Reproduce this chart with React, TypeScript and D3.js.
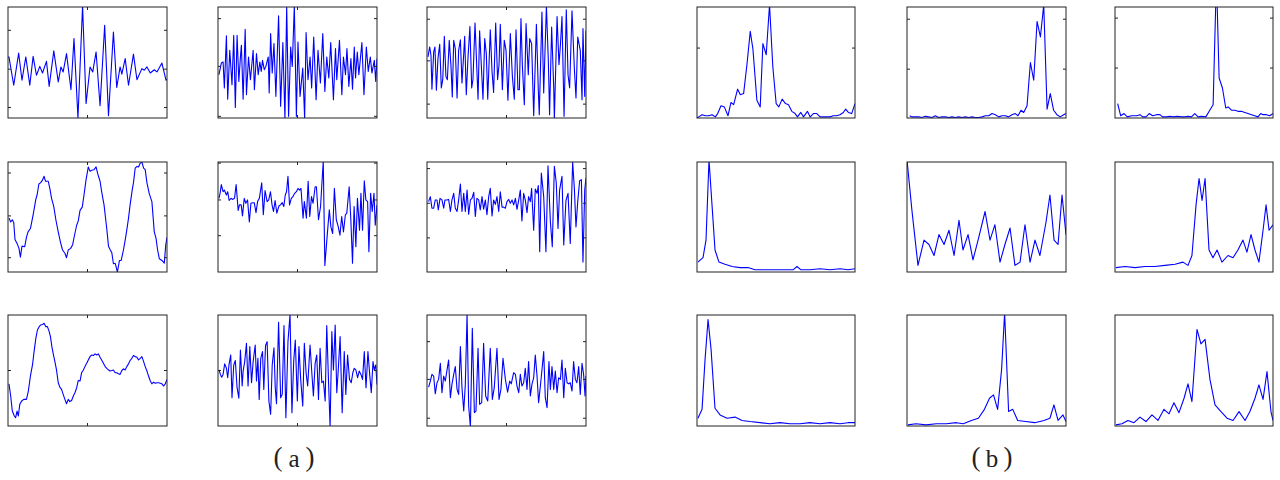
import React from 'react';
import * as d3 from 'd3';

type Pt = [number, number];

// ---- left group (a): time signals, t in [0,100], amplitude in [-1,1]
const sigA1: Pt[] = [[0,0.1],[0.6,0.10],[3.6,-0.41],[6.7,0.17],[8.8,-0.32],[11.2,0.10],[13.7,-0.41],[15.8,0.11],[17.9,-0.23],[20,-0.07],[21.7,-0.19],[24.2,0.02],[25.9,-0.43],[28.8,0.21],[31.6,-0.35],[33.3,-0.08],[34.7,-0.17],[36.8,0.16],[39.6,-0.49],[41.5,0.43],[44,-1.0],[46.9,1.02],[49.1,-0.74],[51.6,-0.08],[53.3,-0.17],[55.4,0.19],[57.9,-0.78],[60.8,0.67],[63.2,-0.96],[66.3,0.55],[68.4,-0.45],[70.5,-0.08],[71.6,-0.21],[73.7,0.07],[75.8,-0.41],[78.9,0.15],[81.1,-0.31],[84.2,-0.11],[85.7,-0.14],[87.4,-0.08],[89.5,-0.19],[92,-0.13],[93.7,-0.17],[96.8,-0.01],[99.4,-0.32],[100,-0.3]];
const sigA2: Pt[] = [[0.6,-0.22],[2.1,-0.01],[3.2,0.01],[4,-0.46],[5.3,0.48],[6.1,-0.66],[7.4,0.22],[8.8,-0.40],[9.9,0.49],[10.9,-0.81],[12,0.49],[13.1,-0.34],[14.1,0.10],[14.7,0.31],[15.8,-0.66],[17.1,0.60],[17.9,-0.58],[19.2,0.10],[20.4,-0.31],[22.1,0.22],[22.9,-0.49],[24.2,0.16],[25.3,-0.22],[26.3,0.01],[27.2,-0.16],[28,0.04],[29.1,-0.13],[30.1,-0.07],[31.6,0.10],[32.2,-0.55],[33.1,0.52],[34.1,-0.19],[35.2,0.34],[36.4,-0.61],[38.1,0.84],[39.4,-0.79],[40.8,0.36],[42.1,-1.02],[43.2,1.02],[44.4,-0.97],[45.7,0.28],[46.7,-0.07],[48,1.02],[49.3,-0.97],[50.3,0.37],[51.6,-0.61],[53.3,-0.10],[54.5,-1.02],[55.4,0.54],[56.6,-0.31],[57.9,0.10],[58.9,-0.46],[60.2,0.46],[61.7,-0.67],[62.9,0.22],[64.4,-0.37],[65.9,0.52],[67.2,-0.52],[68.4,0.10],[69.7,-0.28],[70.9,0.36],[72.6,-0.67],[73.9,0.25],[74.7,-0.31],[76.4,0.40],[77.9,-0.58],[78.9,0.10],[80.2,-0.22],[81.1,0.25],[82.3,-0.43],[83.6,0.07],[84.6,-0.48],[85.7,0.28],[86.5,-0.28],[87.6,0.19],[88.6,-0.22],[90.5,0.36],[91.8,-0.58],[93.3,0.28],[94.5,-0.16],[95.8,0.10],[96.8,-0.19],[98.3,0.04],[99.2,-0.34],[100,0.07]];
const sigA3: Pt[] = [[0.6,0.10],[1.7,0.28],[2.5,0.13],[3.1,-0.48],[4.2,0.19],[5,0.28],[5.9,-0.50],[6.9,0.07],[8,0.33],[9,-0.46],[9.9,-0.31],[10.9,0.47],[11.9,-0.25],[12.8,-0.31],[14,0.40],[15.1,-0.07],[15.9,-0.62],[16.8,0.40],[17.8,0.25],[18.9,-0.64],[19.9,0.22],[21,0.41],[22,-0.37],[23.1,0.16],[23.7,0.47],[24.7,-0.58],[25.8,0.10],[27,0.65],[28.1,-0.46],[28.9,-0.31],[30.2,0.71],[30.8,0.28],[32.1,-0.66],[33.1,0.57],[34.2,-0.07],[35.2,-0.66],[36.3,0.43],[37.3,0.16],[38.2,-0.66],[39.8,0.59],[40.9,-0.16],[41.9,-0.54],[43.2,0.71],[44.4,-0.31],[45.3,-0.04],[46.1,0.69],[47.4,-0.49],[48.6,0.40],[49.7,0.22],[50.9,-0.68],[52.4,0.52],[53.7,-0.25],[54.9,-0.66],[56,0.59],[57.2,-0.49],[58.1,-0.49],[59.1,0.79],[60,-0.07],[61.2,-0.76],[62.3,0.70],[63.7,-0.22],[64.6,0.43],[65.8,0.34],[67.1,-0.96],[68.8,0.69],[70,-0.49],[70.6,-0.94],[72.3,0.91],[73.4,-0.55],[75.1,1.02],[76.3,0.04],[77.1,-0.94],[78.4,0.64],[79.7,-0.46],[80.1,-1.02],[81.8,0.83],[83,-0.04],[83.9,0.31],[84.9,0.83],[86.2,-0.97],[87.6,0.95],[88.7,-0.22],[89.7,-0.46],[91.2,0.93],[92.7,-0.12],[93.7,-0.64],[94.8,0.46],[96.4,0.22],[97.5,-0.67],[98.1,0.61],[99.2,-0.61],[100,0.57]];
const sigA4: Pt[] = [[0.6,-0.02],[1.7,-0.09],[2.7,-0.05],[3.6,-0.10],[4.4,-0.41],[5.7,-0.48],[6.9,-0.57],[7.8,-0.73],[8.8,-0.53],[10.5,-0.54],[11.6,-0.37],[12.6,-0.27],[14.1,-0.21],[15.8,0.04],[17.5,0.32],[18.3,0.40],[19.4,0.60],[20.4,0.62],[21.5,0.66],[22.7,0.74],[23.6,0.65],[25.3,0.65],[26.3,0.52],[27.4,0.34],[28.8,0.19],[30.1,-0.05],[31.6,-0.27],[33.1,-0.47],[34.3,-0.60],[35.8,-0.66],[36.8,-0.74],[37.9,-0.60],[39.4,-0.57],[40.6,-0.51],[41.7,-0.35],[43.2,-0.15],[44.2,-0.07],[45.3,0.12],[46.7,0.18],[47.8,0.40],[49.1,0.68],[50.5,0.91],[51.6,0.83],[52.6,0.85],[54.1,0.86],[55.4,0.91],[56.4,0.79],[57.9,0.65],[58.9,0.46],[60.4,0.22],[62.1,-0.21],[63.2,-0.53],[64.2,-0.59],[65.3,-0.65],[66.3,-0.85],[67.4,-0.84],[68.8,-1.0],[70.1,-0.79],[71.2,-0.79],[72.6,-0.60],[73.7,-0.42],[74.7,-0.24],[75.8,-0.02],[76.8,0.22],[78.1,0.49],[78.9,0.62],[80,0.89],[81.1,0.92],[82.1,0.91],[83.2,0.98],[84.2,1.0],[85.3,0.89],[86.3,0.86],[87.4,0.62],[88.8,0.43],[90.5,0.28],[92,-0.27],[93.1,-0.39],[94.1,-0.60],[95.2,-0.76],[96.8,-0.79],[98.3,-0.84],[99.2,-0.51],[100,-0.37]];
const sigA5: Pt[] = [[0.6,0.34],[1.3,0.43],[2.1,0.59],[3.2,0.46],[4,0.49],[5.3,0.40],[6.1,0.46],[7,0.30],[8.2,0.34],[9.1,0.32],[10.4,0.34],[11.4,0.59],[12.7,0.12],[13.5,0.22],[14.6,0.22],[15.4,0.02],[16.5,0.34],[17.5,0.25],[18.6,0.31],[19.7,-0.09],[20.7,0.25],[21.8,0.26],[22.8,0.26],[23.9,0.08],[24.9,0.28],[26,0.34],[27.5,0.62],[28.5,0.04],[29.6,0.48],[30.9,0.28],[31.9,0.31],[33,0.46],[34,0.22],[34.9,0.10],[35.9,0.30],[37,0.07],[38.3,0.20],[39.3,0.22],[40.4,0.26],[41.4,0.19],[42.3,0.40],[43.1,0.46],[44,0.74],[45,0.22],[46.1,0.34],[47.1,0.37],[48.2,0.43],[49.3,0.46],[50.3,0.52],[51.4,0.49],[52.2,0.52],[53.5,-0.02],[54.3,0.28],[55.6,-0.02],[56.7,0.65],[57.7,0.01],[58.8,0.37],[59.8,0.25],[61.1,0.55],[61.9,0.55],[63.2,-0.05],[64.5,0.19],[66.2,1.02],[67.2,-0.88],[68.7,-0.33],[70,0.13],[71,-0.18],[72.1,-0.30],[73.2,0.52],[74.4,-0.05],[75.5,-0.16],[76.7,-0.33],[77.8,0.01],[78.9,-0.27],[80.1,0.04],[81,0.07],[82.5,0.55],[83.5,-0.02],[84.6,-0.84],[85.6,0.19],[86.7,-0.54],[87.7,0.34],[89,-0.24],[89.9,0.43],[90.9,-0.24],[92,0.66],[93,0.31],[94.1,0.28],[94.9,-0.63],[96,0.43],[97,0.10],[98.1,0.43],[98.9,-0.15],[100,0.22]];
const sigA6: Pt[] = [[1,0.28],[2.1,0.37],[3.1,0.16],[4.2,0.16],[5.2,0.31],[6.3,0.31],[7.1,0.13],[8.2,0.34],[9.4,0.31],[10.5,0.16],[11.3,0.31],[12.6,0.31],[13.6,0.32],[14.7,0.10],[15.7,0.31],[16.8,0.43],[17.8,0.16],[18.9,0.10],[19.9,0.31],[21,0.60],[22,0.10],[23.1,0.43],[24.1,0.10],[25.2,0.49],[26.2,0.05],[27.3,0.31],[28.3,0.34],[29.4,0.45],[30.4,0.01],[31.4,0.34],[32.5,0.31],[33.5,0.13],[34.6,0.37],[35.6,0.14],[36.7,0.31],[37.7,0.04],[38.8,0.37],[39.8,0.52],[40.9,0.02],[41.9,0.31],[43,0.23],[44,0.37],[45.1,0.10],[46.1,0.46],[47.2,0.18],[48.2,0.18],[49.3,0.16],[50.3,0.28],[51.4,0.32],[52.4,0.25],[53.5,0.31],[54.5,0.22],[55.6,0.34],[56.6,0.14],[57.7,0.31],[58.7,0.49],[59.7,-0.07],[60.8,0.43],[61.8,0.31],[62.9,0.08],[63.9,0.37],[65,0.28],[65.8,0.52],[67.1,-0.24],[68.1,0.51],[69.2,0.43],[70,0.57],[70.9,-0.63],[71.9,0.80],[73.4,0.37],[74.8,-0.63],[76.1,0.93],[77.6,-0.09],[78.8,-0.54],[80.1,0.92],[81.3,0.62],[82.4,-0.21],[83.4,0.49],[84.9,0.74],[86,-0.51],[87.4,0.30],[88.7,0.43],[90.1,-0.48],[91.6,1.0],[92.7,0.51],[93.7,-0.18],[94.8,0.28],[96,0.66],[97.1,0.68],[98.1,-0.82],[99.2,0.49],[100,0.71]];
const sigA7: Pt[] = [[0.6,-0.24],[1.7,-0.46],[2.7,-0.73],[4,-0.82],[4.8,-0.85],[5.7,-0.73],[6.5,-0.82],[7.4,-0.61],[8.6,-0.55],[9.9,-0.52],[11.6,-0.52],[12.8,-0.37],[14.1,-0.10],[15.4,0.10],[16.4,0.34],[17.5,0.58],[18.5,0.73],[19.6,0.79],[20.6,0.82],[21.7,0.83],[22.7,0.85],[23.8,0.79],[24.8,0.79],[25.9,0.70],[26.7,0.61],[27.6,0.43],[28.4,0.31],[29.5,0.16],[30.5,0.01],[31.6,-0.22],[32.6,-0.30],[33.7,-0.34],[34.7,-0.43],[35.8,-0.52],[36.8,-0.60],[37.9,-0.52],[38.9,-0.56],[40,-0.54],[41.1,-0.46],[42.1,-0.40],[43.2,-0.31],[44.2,-0.18],[45.3,-0.19],[46.3,-0.04],[47.4,0.01],[48.4,0.07],[49.5,0.13],[50.5,0.19],[51.6,0.25],[52.6,0.28],[53.7,0.27],[54.7,0.30],[55.8,0.28],[56.8,0.30],[57.9,0.24],[58.9,0.19],[60,0.13],[61.1,0.07],[62.1,0.04],[63.2,0.01],[64.2,-0.01],[65.3,0.0],[66.3,0.01],[67.4,-0.04],[68.4,-0.04],[69.5,-0.06],[70.5,-0.07],[71.6,0.0],[72.6,0.03],[73.7,0.01],[74.7,0.07],[75.8,0.12],[76.8,0.18],[77.9,0.22],[78.9,0.27],[80,0.25],[81.1,0.24],[82.1,0.19],[83.2,0.22],[84.2,0.25],[85.3,0.16],[86.3,0.07],[87.4,-0.01],[88.4,-0.10],[89.5,-0.19],[90.5,-0.24],[91.6,-0.21],[92.6,-0.23],[93.7,-0.22],[94.7,-0.22],[95.8,-0.23],[96.8,-0.24],[97.9,-0.28],[98.9,-0.24],[100,-0.16]];
const sigA8: Pt[] = [[0.6,0.01],[1.5,-0.07],[2.3,-0.12],[3.2,-0.07],[4.2,0.12],[5.3,0.04],[6.1,-0.13],[6.9,0.10],[8,0.28],[8.8,-0.49],[9.9,0.10],[10.9,0.18],[12,-0.31],[13.1,-0.50],[14.1,0.37],[15.2,-0.28],[15.8,-0.01],[16.8,0.16],[17.9,0.49],[18.9,-0.28],[20,0.43],[21.1,-0.22],[22.1,0.16],[23.4,0.46],[24.2,-0.19],[25.1,0.22],[25.9,-0.52],[26.9,0.22],[28,0.34],[28.8,-0.34],[29.9,0.45],[30.9,0.52],[32,-0.55],[33.1,-0.79],[34.1,0.10],[35.2,0.41],[36,-0.31],[36.8,-0.60],[38.1,0.87],[39.4,-0.49],[40.4,-0.43],[41.5,0.81],[42.7,-0.85],[44,0.52],[45.3,1.01],[46.5,-0.76],[47.6,0.16],[48.6,0.55],[49.9,-0.55],[50.9,0.43],[52,-0.16],[53.3,-0.64],[54.3,0.49],[55.4,-0.04],[56.4,-0.28],[57.9,0.46],[58.9,0.01],[60,-0.46],[61.1,0.13],[62.1,0.28],[63.2,-0.52],[64.2,0.40],[65.3,-0.22],[66.3,-0.19],[67.4,-0.55],[68.4,0.81],[69.5,-0.19],[70.5,-1.02],[71.6,0.70],[72.6,0.01],[73.7,0.82],[74.7,-0.40],[75.6,-0.01],[76.8,0.61],[78.1,-0.76],[79.4,0.34],[80.4,-0.43],[81.5,0.28],[82.7,-0.16],[83.8,-0.22],[84.8,-0.04],[85.7,0.04],[86.7,0.01],[87.8,-0.13],[88.8,-0.01],[89.9,-0.07],[90.9,-0.16],[92,0.34],[93.1,-0.31],[94.3,0.34],[95.4,-0.07],[96.4,-0.40],[97.5,0.16],[98.3,0.01],[99.2,0.10],[100,-0.25]];
const sigA9: Pt[] = [[1,-0.30],[2.1,-0.19],[3.1,-0.07],[4.2,-0.10],[5.2,-0.42],[6.3,-0.22],[7.3,-0.16],[8.4,0.13],[9.4,-0.40],[10.5,-0.10],[11.5,-0.19],[12.6,0.01],[13.6,0.19],[14.7,-0.49],[15.7,-0.25],[16.8,-0.07],[17.8,0.07],[18.9,-0.34],[19.9,-0.43],[21,0.43],[22,-0.31],[23.1,-0.73],[24.1,-0.25],[25.2,1.01],[26.2,-0.64],[27.3,-1.02],[28.5,0.76],[29.8,-0.76],[30.8,-0.73],[32.1,0.40],[33.1,-0.61],[34.4,-0.58],[35.6,0.49],[36.9,-0.46],[38.2,-0.55],[39.8,0.40],[41.1,-0.52],[42.3,-0.31],[44,0.40],[45.3,-0.52],[46.5,-0.34],[47.8,0.22],[49.3,-0.16],[50.7,-0.39],[52,-0.19],[53,-0.24],[54.5,-0.04],[55.6,-0.07],[56.6,-0.28],[57.7,-0.40],[58.7,-0.07],[59.7,-0.28],[60.8,-0.22],[61.8,0.04],[62.9,-0.34],[63.9,0.16],[65,-0.46],[66,-0.25],[67.1,-0.13],[68.1,0.28],[69.2,-0.10],[70.2,-0.58],[71.3,-0.28],[72.3,0.01],[73.4,0.34],[74.4,-0.49],[75.5,-0.67],[76.7,0.16],[77.6,-0.34],[78.6,0.07],[79.7,-0.34],[80.7,-0.01],[81.8,-0.40],[82.8,-0.13],[83.9,-0.16],[84.9,0.19],[86,-0.49],[87,0.04],[88.1,-0.22],[89.1,-0.24],[90.1,-0.22],[91.2,-0.37],[92.2,0.16],[93.3,-0.16],[94.3,-0.22],[95.4,0.07],[96.4,-0.43],[97.5,0.13],[98.5,-0.07],[99.4,-0.46],[100,-0.10]];

// ---- right group (b): spectra, f in [0,100], magnitude in [0,1]
const specB1: Pt[] = [[0,0.0],[1.1,0.01],[3.2,0.03],[5.3,0.02],[7.4,0.02],[9.5,0.03],[11.6,0.01],[13.1,0.04],[15.2,0.11],[17.3,0.10],[19.6,0.02],[21.5,0.14],[23.2,0.12],[25.7,0.26],[27.4,0.21],[29.5,0.22],[31.6,0.48],[33.7,0.78],[35.4,0.62],[37.9,0.16],[40,0.10],[41.7,0.67],[43.8,0.57],[45.9,1.02],[48,0.46],[50.1,0.13],[51.8,0.10],[53.9,0.17],[56,0.13],[57.9,0.12],[60,0.06],[62.1,0.04],[63.6,0.01],[65.7,0.05],[67.4,0.01],[69.9,0.06],[71.6,0.01],[73.7,0.04],[75.8,0.04],[77.9,0.01],[80,0.01],[82.1,0.01],[84.2,0.01],[86.3,0.02],[88.4,0.02],[90.5,0.03],[92.6,0.05],[94.1,0.08],[95.8,0.05],[97.9,0.04],[100,0.13]];
const specB2: Pt[] = [[1.7,0.02],[3.1,0.01],[5.2,0.01],[7.3,0.01],[9.4,0.005],[11.5,0.015],[13.6,0.01],[15.7,0.005],[17.8,0.02],[19.9,0.005],[22,0.01],[24.1,0.01],[26.2,0.005],[28.3,0.01],[30.4,0.005],[32.5,0.01],[34.6,0.005],[36.7,0.01],[38.8,0.005],[40.9,0.01],[43,0.005],[45.1,0.005],[47.2,0.01],[49.3,0.02],[51.4,0.02],[53.5,0.04],[55.6,0.03],[57.7,0.01],[59.7,0.02],[61.8,0.02],[63.9,0.01],[66,0.03],[68.1,0.04],[69.8,0.02],[71.7,0.07],[73.4,0.05],[75.5,0.11],[77.6,0.50],[79.7,0.34],[81.8,0.87],[83.9,0.73],[86,1.02],[88.1,0.08],[90.1,0.22],[92.2,0.07],[94.3,0.03],[96.4,0.01],[98.5,0.03],[100,0.04]];
const specB3: Pt[] = [[1.7,0.13],[3.6,0.02],[5.7,0.04],[7.8,0.01],[10.5,0.02],[13.7,0.02],[15.8,0.03],[17.5,0.01],[19.6,0.01],[21.7,0.04],[23.8,0.02],[26.3,0.03],[28.4,0.03],[30.1,0.01],[32.6,0.01],[34.7,0.015],[36.8,0.01],[39.4,0.015],[42.1,0.01],[44.2,0.01],[46.3,0.015],[48.4,0.01],[50.5,0.04],[52.6,0.01],[54.7,0.015],[57.5,0.01],[59.6,0.06],[62.1,0.12],[63.8,1.05],[64.6,1.05],[65.9,0.36],[68,0.27],[70.1,0.09],[71.6,0.10],[73.7,0.07],[75.8,0.07],[77.9,0.06],[80,0.06],[82.1,0.05],[84.2,0.04],[86.3,0.03],[88.4,0.02],[90.5,0.01],[92.2,0.04],[93.7,0.03],[95.8,0.03],[97.9,0.02],[100,0.04]];
const specB4: Pt[] = [[0.6,0.09],[3.8,0.13],[5.7,0.29],[7.6,1.02],[9.5,0.61],[11.4,0.20],[13.9,0.09],[17.7,0.07],[22.2,0.05],[27.2,0.04],[32.3,0.04],[36.7,0.02],[43,0.02],[49.4,0.02],[55.7,0.02],[60.8,0.02],[63.3,0.05],[65.8,0.02],[71.5,0.02],[77.8,0.03],[84.2,0.02],[90.5,0.03],[95.6,0.02],[100,0.03]];
const specB5: Pt[] = [[0,1.02],[3.1,0.56],[6.9,0.06],[10.7,0.29],[13.8,0.25],[17,0.15],[20.1,0.34],[23.3,0.25],[26.4,0.38],[29.6,0.15],[32.7,0.47],[35.2,0.20],[38.4,0.34],[41.5,0.11],[44.7,0.29],[49.1,0.55],[52.2,0.29],[55.3,0.43],[58.5,0.09],[61.6,0.25],[64.8,0.40],[67.9,0.06],[71.1,0.09],[74.2,0.43],[77.4,0.09],[80.5,0.29],[83.6,0.15],[87.4,0.45],[89.9,0.70],[92.5,0.29],[95,0.25],[97.5,0.70],[100,0.34]];
const specB6: Pt[] = [[0.6,0.04],[6.3,0.05],[12.7,0.04],[19,0.05],[25.3,0.05],[31.6,0.06],[38,0.07],[43,0.09],[46.2,0.06],[48.7,0.15],[51.3,0.61],[53.2,0.85],[55.1,0.65],[57,0.85],[59.5,0.20],[62,0.13],[64.6,0.20],[67.7,0.09],[71.5,0.15],[74.7,0.13],[77.8,0.20],[81,0.29],[83.5,0.18],[86.1,0.34],[88.6,0.20],[91.1,0.09],[93.7,0.38],[95.6,0.61],[97.5,0.38],[100,0.43]];
const specB7: Pt[] = [[0.6,0.07],[3.2,0.15],[5.1,0.60],[7,0.96],[8.9,0.69],[11.4,0.16],[14.6,0.10],[19,0.07],[24.1,0.08],[28.5,0.05],[33.5,0.04],[39.9,0.03],[46.2,0.02],[52.5,0.03],[58.9,0.02],[65.2,0.02],[71.5,0.03],[77.8,0.02],[84.2,0.03],[90.5,0.02],[95.6,0.03],[100,0.03]];
const specB8: Pt[] = [[0.6,0.01],[5.7,0.02],[12,0.01],[18.4,0.02],[24.7,0.02],[31,0.03],[35.4,0.02],[40.5,0.05],[44.9,0.07],[48.7,0.15],[51.9,0.25],[54.4,0.28],[57,0.15],[59.5,0.51],[61.4,1.02],[63.9,0.13],[66.5,0.15],[69.6,0.05],[74.7,0.04],[80.4,0.03],[86.1,0.05],[89.9,0.07],[92.4,0.19],[95,0.05],[98.1,0.10],[100,0.04]];
const specB9: Pt[] = [[0.6,0.01],[4.4,0.02],[8.2,0.05],[12,0.03],[15.8,0.08],[19.6,0.04],[23.4,0.10],[27.2,0.05],[31,0.15],[34.2,0.11],[37.3,0.21],[40.5,0.12],[43.7,0.25],[46.2,0.38],[48.7,0.22],[51.9,0.87],[54.4,0.74],[57,0.78],[60.1,0.42],[63.3,0.19],[67.1,0.13],[70.9,0.07],[74.7,0.05],[78.5,0.13],[82.3,0.05],[85.4,0.13],[88.6,0.25],[91.1,0.37],[93.7,0.24],[96.2,0.49],[98.7,0.13],[100,0.05]];

// tick values per panel (y), x ticks at centre of time axis
const yTicksA: number[][] = [
  [-0.81, -0.12, 0.58], [-0.97, -0.07, 0.79], [-0.75, 0.03, 0.78],
  [-0.74, 0.02, 0.80], [-0.34, 0.31, 0.98], [-0.38, 0.25, 0.88],
  [0.0], [0.0], [-0.86, -0.16, 0.52],
];
const yTicksB: number[][] = [
  [0.63], [0.44, 0.89], [0.45, 0.90],
  [], [], [],
  [], [], [],
];
const xTicksA = [50];
const labelLetters = ['a', 'b'];

const seriesA = [sigA1, sigA2, sigA3, sigA4, sigA5, sigA6, sigA7, sigA8, sigA9];
const seriesB = [specB1, specB2, specB3, specB4, specB5, specB6, specB7, specB8, specB9];

// layout (pixels)
const colsA: [number, number][] = [[8, 167], [218, 377], [427, 586]];
const colsB: [number, number][] = [[697, 855], [907, 1066], [1115, 1273]];
const rows: [number, number][] = [[7, 118], [162, 272], [315, 426]];

const TICK = 3;

function Panel(props: { id: string; data: Pt[]; x0: number; x1: number; y0: number; y1: number; yDomain: [number, number]; yTicks: number[]; xTicks: number[] }) {
  const { id, data, x0, x1, y0, y1, yDomain, yTicks, xTicks } = props;
  const x = d3.scaleLinear().domain([0, 100]).range([x0, x1]);
  const y = d3.scaleLinear().domain(yDomain).range([y1, y0]);
  const line = d3.line<Pt>().x(d => x(d[0])).y(d => y(d[1]));
  return (
    <g>
      <defs>
        <clipPath id={id}>
          <rect x={x0} y={y0} width={x1 - x0} height={y1 - y0} />
        </clipPath>
      </defs>
      <path d={line(data) || ''} fill="none" stroke="#0000ff" strokeWidth={1.1} clipPath={`url(#${id})`} strokeLinejoin="round" />
      <rect x={x0} y={y0} width={x1 - x0} height={y1 - y0} fill="none" stroke="#222" strokeWidth={1} />
      {yTicks.map((t, i) => (
        <g key={'y' + i} stroke="#222" strokeWidth={1}>
          <line x1={x0} x2={x0 + TICK} y1={y(t)} y2={y(t)} />
          <line x1={x1} x2={x1 - TICK} y1={y(t)} y2={y(t)} />
        </g>
      ))}
      {xTicks.map((t, i) => (
        <g key={'x' + i} stroke="#222" strokeWidth={1}>
          <line x1={x(t)} x2={x(t)} y1={y0} y2={y0 + TICK} />
          <line x1={x(t)} x2={x(t)} y1={y1} y2={y1 - TICK} />
        </g>
      ))}
    </g>
  );
}

function Caption(props: { cx: number; letter: string }) {
  const serif = "'Liberation Serif', 'DejaVu Serif', serif";
  const { cx, letter } = props;
  return (
    <g fill="#222" fontFamily={serif} textAnchor="middle">
      <text x={cx - 16} y={466} fontSize={27}>(</text>
      <text x={cx} y={467} fontSize={25}>{letter}</text>
      <text x={cx + 16} y={466} fontSize={27}>)</text>
    </g>
  );
}

export default function App() {
  const panels: React.ReactNode[] = [];
  for (let r = 0; r < 3; r++) {
    for (let c = 0; c < 3; c++) {
      const k = r * 3 + c;
      panels.push(
        <Panel key={'a' + k} id={'ca' + k} data={seriesA[k]} x0={colsA[c][0]} x1={colsA[c][1]} y0={rows[r][0]} y1={rows[r][1]}
          yDomain={[-1, 1]} yTicks={yTicksA[k]} xTicks={xTicksA} />
      );
      panels.push(
        <Panel key={'b' + k} id={'cb' + k} data={seriesB[k]} x0={colsB[c][0]} x1={colsB[c][1]} y0={rows[r][0]} y1={rows[r][1]}
          yDomain={[0, 1]} yTicks={yTicksB[k]} xTicks={[]} />
      );
    }
  }
  return (
    <svg width={1280} height={480} style={{ position: 'absolute', left: 0, top: 0, background: '#fff' }}>
      <rect x={0} y={0} width={1280} height={480} fill="#fff" />
      {panels}
      <Caption cx={294} letter={labelLetters[0]} />
      <Caption cx={992} letter={labelLetters[1]} />
    </svg>
  );
}
